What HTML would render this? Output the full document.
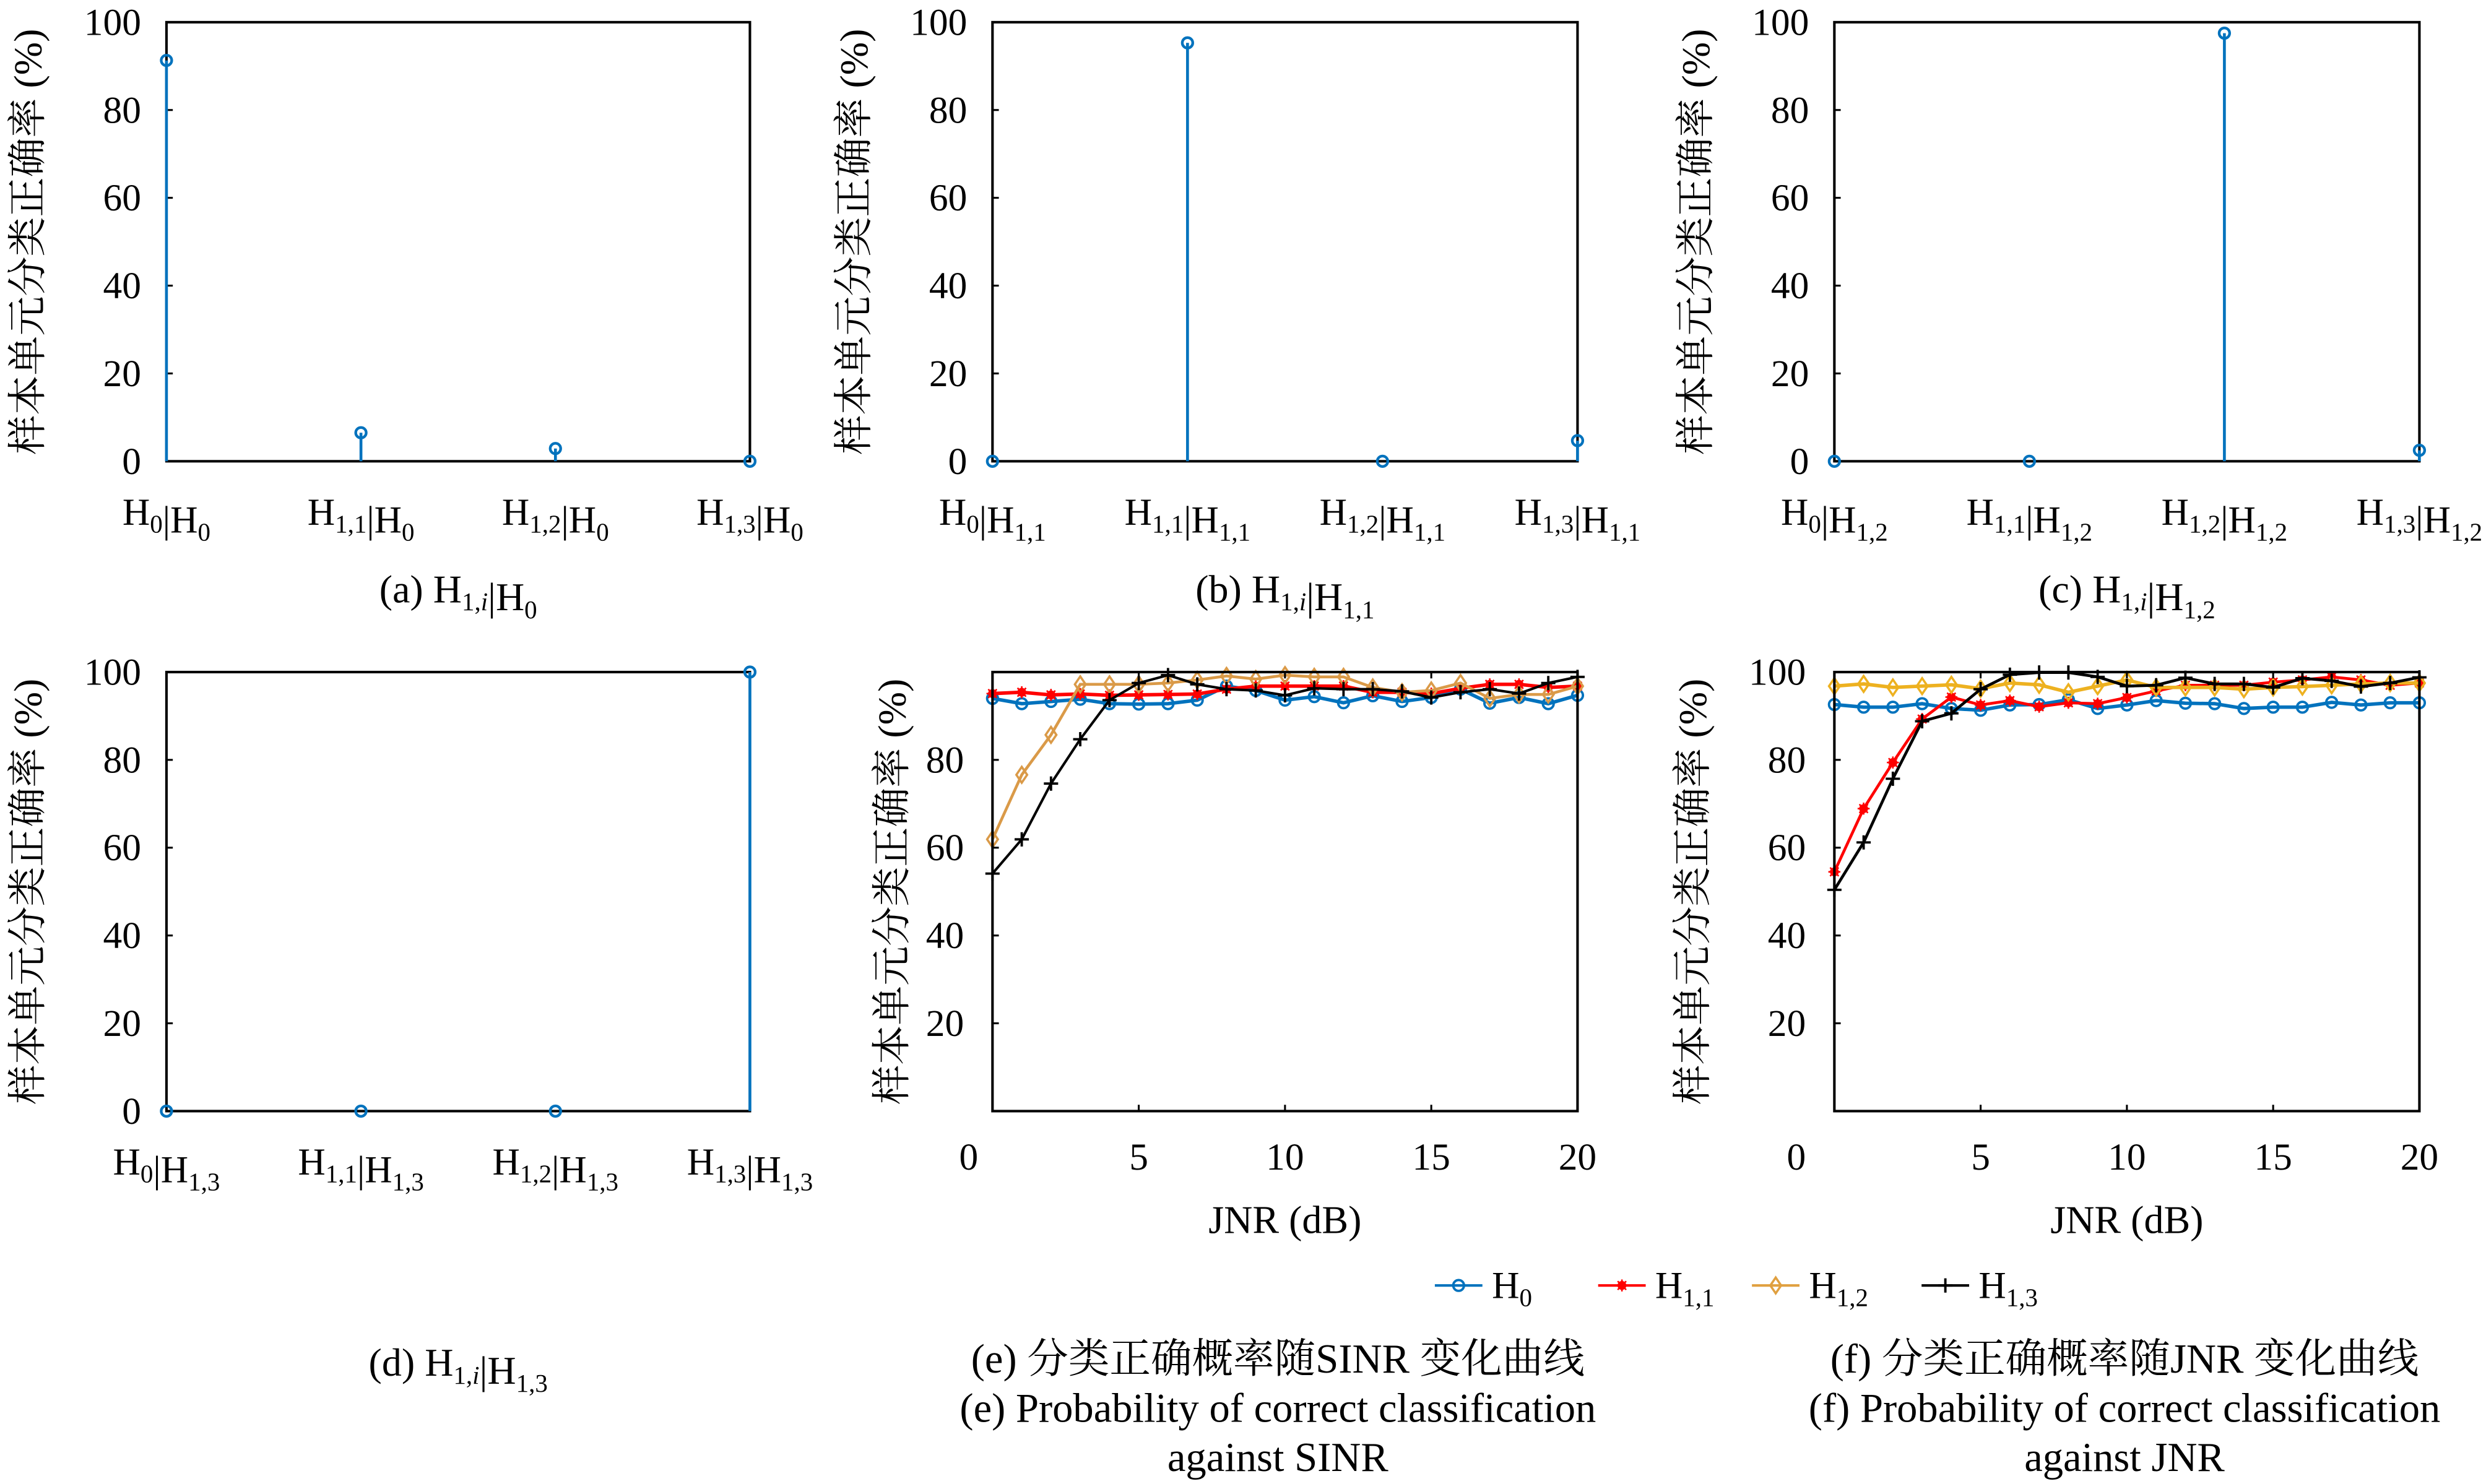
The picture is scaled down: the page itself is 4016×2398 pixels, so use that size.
<!DOCTYPE html>
<html><head><meta charset="utf-8">
<style>
html,body{margin:0;padding:0;background:#fff;}
svg{display:block;}
svg text{font-family:"Liberation Serif","Noto Serif CJK SC",serif;fill:#000;}
</style></head>
<body>
<svg id="fig" xmlns="http://www.w3.org/2000/svg" width="4016" height="2398" viewBox="0 0 1568 936.25" font-family="Liberation Serif, Noto Serif CJK SC, serif"></svg>
<script>
// ---- data ----
const stemCats = [["0"],["1,1"],["1,2"],["1,3"]];
const stemA = [91.3, 6.5, 2.9, 0];
const stemB = [0, 95.3, 0, 4.7];
const stemC = [0, 0, 97.5, 2.5];
const stemD = [0, 0, 0, 100];
const stemTicks = [0,20,40,60,80,100];
const xVals = [0,1,2,3,4,5,6,7,8,9,10,11,12,13,14,15,16,17,18,19,20];
const xTicks = [0,5,10,15,20];
const yTicksE = [20,40,60,80];
const yTicksF = [20,40,60,80,100];
const eH0  = [94.0,92.8,93.3,93.8,92.8,92.7,92.8,93.6,96.8,95.8,93.6,94.4,93.0,94.6,93.3,94.2,96.1,92.9,94.2,92.8,94.7];
const eH11 = [95.1,95.4,94.8,95.0,94.7,94.8,94.9,95.0,96.1,96.8,96.8,96.8,96.8,95.4,95.4,95.1,96.3,97.2,97.2,96.5,96.8];
const eH12 = [61.9,76.6,85.7,97.2,97.2,97.2,97.5,98.2,99.1,98.4,99.3,98.9,98.9,96.5,95.4,95.8,97.5,94.0,94.9,94.9,96.8];
const eH13 = [54.1,61.9,74.6,84.7,93.6,97.5,99.3,97.2,96.1,95.8,94.7,96.3,96.1,96.1,95.6,94.2,95.4,96.1,95.1,97.5,98.9];
const fH0  = [92.6,92.0,92.0,92.8,91.7,91.3,92.5,92.6,93.7,91.7,92.5,93.5,92.9,92.8,91.7,92.0,92.0,93.1,92.5,93.0,93.0];
const fH11 = [54.5,68.9,79.4,89.3,94.3,92.5,93.5,92.1,93.0,92.8,94.2,95.7,97.0,97.0,97.0,97.7,98.2,98.9,98.2,97.0,97.5];
const fH12 = [96.8,97.3,96.5,96.8,97.1,96.2,97.5,97.1,95.4,96.8,98.2,96.5,96.5,96.5,96.1,96.5,96.7,97.0,97.3,97.5,97.5];
const fH13 = [50.4,61.2,75.7,88.8,90.6,96.1,99.4,99.9,99.9,98.9,96.8,97.0,98.7,97.3,97.3,96.5,98.6,98.0,96.7,97.5,98.8];

const NS="http://www.w3.org/2000/svg";
const svg=document.getElementById('fig');
function el(tag,attrs,parent){const e=document.createElementNS(NS,tag);for(const k in attrs)e.setAttribute(k,attrs[k]);(parent||svg).appendChild(e);return e;}
function txt(x,y,html,size,anchor,parent,name){
  const t=el('text',{x:x,y:y,'font-size':size,'text-anchor':anchor||'middle','font-family':'Liberation Serif, Noto Serif CJK SC, serif'},parent);
  t.innerHTML=html;
  
  
  return t;
}
function H(sub,fs){return 'H<tspan dy="5" font-size="'+fs+'">'+sub+'</tspan><tspan dy="-5"></tspan>';}
const BLUE='#0072BD';
const YL='样本单元分类正确率 (%)';

function stemPanel(name,x0,x1,y0,y1,vals,given,caption,capY){
  const g=el('g',{});
  
  
  const ys=v=>y1-(v/100)*(y1-y0);
  const xs=i=>x0+i*(x1-x0)/(stemCats.length-1);
  const b=el('rect',{x:x0,y:y0,width:x1-x0,height:y1-y0,fill:'none',stroke:'#000','stroke-width':1.6},g);
  
  
  stemTicks.forEach(v=>{
    el('line',{x1:x0,x2:x0+4,y1:ys(v),y2:ys(v),stroke:'#000','stroke-width':1.2},g);
    txt(x0-16,ys(v)+8,String(v),24,'end',g,'y-tick-label');
  });
  const yl=txt(0,0,YL,25,'middle',g,'y-axis-title');
  yl.setAttribute('transform','translate('+(x0-79)+','+((y0+y1)/2)+') rotate(-90)');
  vals.forEach((v,i)=>{
    const l=el('line',{x1:xs(i),x2:xs(i),y1:y1,y2:ys(v),stroke:BLUE,'stroke-width':1.8},g);
    
    
    const c=el('circle',{cx:xs(i),cy:ys(v),r:3.3,fill:'none',stroke:BLUE,'stroke-width':1.7},g);
    
    
    txt(xs(i),y1+40,H(stemCats[i][0],16)+'|'+H(given,16),24,'middle',g,'x-category-label');
  });
  txt((x0+x1)/2,capY,caption,25,'middle',g,'panel-caption');
}
const Hi='(X) '+H('1,<tspan font-style="italic">i</tspan>',16);
stemPanel('panel-a',105,473,14,291,stemA,'0','(a) '+H('1,<tspan font-style="italic">i</tspan>',16)+'|'+H('0',16),380);
stemPanel('panel-b',626,995,14,291,stemB,'1,1','(b) '+H('1,<tspan font-style="italic">i</tspan>',16)+'|'+H('1,1',16),380);
stemPanel('panel-c',1157,1526,14,291,stemC,'1,2','(c) '+H('1,<tspan font-style="italic">i</tspan>',16)+'|'+H('1,2',16),380);
stemPanel('panel-d',105,473,424,701,stemD,'1,3','(d) '+H('1,<tspan font-style="italic">i</tspan>',16)+'|'+H('1,3',16),868);

function marker(g,type,x,y,color){
  let m;
  if(type==='o'){m=el('circle',{cx:x,cy:y,r:3.4,fill:'none',stroke:color,'stroke-width':1.5},g);}
  else if(type==='*'){m=el('g',{},g);el('circle',{cx:x,cy:y,r:2.8,fill:color},m);
    el('path',{d:'M'+(x-3.8)+' '+y+'h7.6M'+x+' '+(y-3.8)+'v7.6M'+(x-2.7)+' '+(y-2.7)+'l5.4 5.4M'+(x+2.7)+' '+(y-2.7)+'l-5.4 5.4',stroke:color,'stroke-width':1},m);}
  else if(type==='d'){m=el('path',{d:'M'+x+' '+(y-5)+'L'+(x+3.4)+' '+y+'L'+x+' '+(y+5)+'L'+(x-3.4)+' '+y+'Z',fill:'none',stroke:color,'stroke-width':1.4},g);}
  else {m=el('path',{d:'M'+(x-4.5)+' '+y+'h9M'+x+' '+(y-4.5)+'v9',stroke:color,'stroke-width':1.5},g);}
  
  
}

function linePanel(name,x0,x1,y0,y1,series,zeroX,yTicks,ylOff,capLines,capX){
  const g=el('g',{});
  
  
  const xs=v=>x0+(v/20)*(x1-x0);
  const ys=v=>y1-(v/100)*(y1-y0);
  series.forEach(s=>{
    const pl=el('polyline',{points:xVals.map((xv,i)=>xs(xv)+','+ys(s.vals[i])).join(' '),fill:'none',stroke:s.color,'stroke-width':s.w},g);
    
    
    xVals.forEach((xv,i)=>marker(g,s.m,xs(xv),ys(s.vals[i]),s.color));
  });
  const b=el('rect',{x:x0,y:y0,width:x1-x0,height:y1-y0,fill:'none',stroke:'#000','stroke-width':1.6},g);
  
  
  yTicks.forEach(v=>{
    el('line',{x1:x0,x2:x0+4,y1:ys(v),y2:ys(v),stroke:'#000','stroke-width':1.2},g);
    txt(x0-18,ys(v)+8,String(v),24,'end',g,'y-tick-label');
  });
  xTicks.forEach(v=>{
    el('line',{x1:xs(v),x2:xs(v),y1:y1,y2:y1-4,stroke:'#000','stroke-width':1.2},g);
    el('line',{x1:xs(v),x2:xs(v),y1:y0,y2:y0+4,stroke:'#000','stroke-width':1.2},g);
    txt(v===0?zeroX:xs(v),y1+37,String(v),24,'middle',g,'x-tick-label');
  });
  txt((x0+x1)/2,y1+77,'JNR (dB)',25,'middle',g,'x-axis-title');
  const yl=txt(0,0,YL,25,'middle',g,'y-axis-title');
  yl.setAttribute('transform','translate('+(x0-ylOff)+','+((y0+y1)/2)+') rotate(-90)');
  capLines.forEach((c,i)=>txt(capX,866+i*31,c,26,'middle',g,'panel-caption'));
}
linePanel('panel-e',626,995,424,701,[
  {name:'series-h0',vals:eH0,color:BLUE,m:'o',w:2.2},
  {name:'series-h11',vals:eH11,color:'#FF0000',m:'*',w:2.2},
  {name:'series-h12',vals:eH12,color:'#DA9A48',m:'d',w:1.8},
  {name:'series-h13',vals:eH13,color:'#000',m:'+',w:1.6}],611,yTicksE,55,
  ['(e) 分类正确概率随SINR 变化曲线','(e) Probability of correct classification','against SINR'],806);
linePanel('panel-f',1157,1526,424,701,[
  {name:'series-h0',vals:fH0,color:BLUE,m:'o',w:2.2},
  {name:'series-h11',vals:fH11,color:'#FF0000',m:'*',w:1.8},
  {name:'series-h12',vals:fH12,color:'#EDB120',m:'d',w:2.2},
  {name:'series-h13',vals:fH13,color:'#000',m:'+',w:1.8}],1133,yTicksF,81,
  ['(f) 分类正确概率随JNR 变化曲线','(f) Probability of correct classification','against JNR'],1340);

// legend
const leg=el('g',{});


[[905,BLUE,'o','0'],[1008,'#FF0000','*','1,1'],[1105,'#E0A040','d','1,2'],[1212,'#000','+','1,3']].forEach(e=>{
  const g=el('g',{},leg);
  
  
  el('line',{x1:e[0],x2:e[0]+30,y1:811,y2:811,stroke:e[1],'stroke-width':1.6},g);
  marker(g,e[2],e[0]+15,811,e[1]);
  txt(e[0]+36,819,H(e[3],16),24,'start',g,'legend-label');
});
</script>
</body></html>
